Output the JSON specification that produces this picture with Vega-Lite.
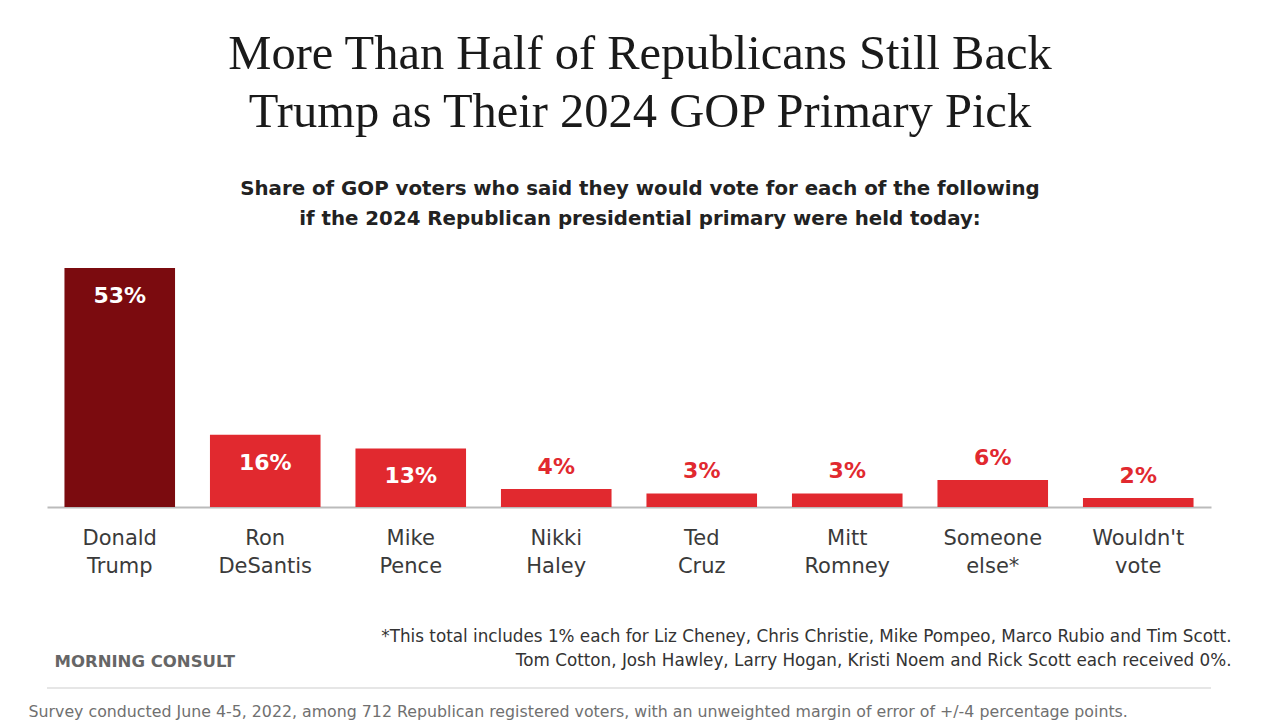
{
  "$schema": "https://vega.github.io/schema/vega-lite/v6.json",
  "width": 1164,
  "height": 239,
  "autosize": "none",
  "padding": {"left": 47, "top": 268, "right": 68, "bottom": 213},
  "background": "white",
  "config": {"view": {"stroke": null}},
  "title": {
    "text": ["More Than Half of Republicans Still Back", "Trump as Their 2024 GOP Primary Pick"],
    "subtitle": ["Share of GOP voters who said they would vote for each of the following", "if the 2024 Republican presidential primary were held today:"],
    "anchor": "middle",
    "frame": "group",
    "dx": 11,
    "offset": 38,
    "font": "Liberation Serif",
    "fontSize": 48.5,
    "fontWeight": "normal",
    "lineHeight": 58,
    "color": "#1a1a1a",
    "subtitleFont": "DejaVu Sans",
    "subtitleFontSize": 19.8,
    "subtitleFontWeight": "bold",
    "subtitleColor": "#222222",
    "subtitleLineHeight": 30,
    "subtitlePadding": 42
  },
  "data": {
    "values": [
      {"name": "Donald Trump", "pct": 53},
      {"name": "Ron DeSantis", "pct": 16},
      {"name": "Mike Pence", "pct": 13},
      {"name": "Nikki Haley", "pct": 4},
      {"name": "Ted Cruz", "pct": 3},
      {"name": "Mitt Romney", "pct": 3},
      {"name": "Someone else*", "pct": 6},
      {"name": "Wouldn't vote", "pct": 2}
    ]
  },
  "resolve": {"scale": {"y": "independent"}},
  "layer": [
    {
      "mark": {"type": "bar"},
      "encoding": {
        "x": {
          "field": "name",
          "type": "nominal",
          "sort": null,
          "scale": {"paddingInner": 0.24, "paddingOuter": 0.12},
          "axis": {
            "title": ["*This total includes 1% each for Liz Cheney, Chris Christie, Mike Pompeo, Marco Rubio and Tim Scott.", "Tom Cotton, Josh Hawley, Larry Hogan, Kristi Noem and Rick Scott each received 0%."],
            "titleFont": "DejaVu Sans",
            "titleFontSize": 16.8,
            "titleFontWeight": "normal",
            "titleColor": "#333333",
            "titleLineHeight": 24,
            "titleAnchor": "end",
            "titleAlign": "right",
            "titleBaseline": "middle",
            "titleX": 1184,
            "titleY": 129,
            "labelExpr": "split(datum.label, ' ')",
            "labelAngle": 0,
            "labelFont": "DejaVu Sans",
            "labelFontSize": 21,
            "labelColor": "#3a3a3a",
            "labelLineHeight": 28,
            "labelPadding": 20,
            "ticks": false,
            "domainColor": "#bbbbbb",
            "domainWidth": 2
          }
        },
        "y": {
          "field": "pct",
          "type": "quantitative",
          "scale": {"domain": [0, 53], "nice": false},
          "axis": {
            "orient": "left",
            "title": "MORNING CONSULT",
            "titleFont": "DejaVu Sans",
            "titleFontSize": 16.5,
            "titleFontWeight": "bold",
            "titleColor": "#666666",
            "titleAngle": 0,
            "titleAlign": "left",
            "titleBaseline": "middle",
            "titleX": 7,
            "titleY": 393,
            "labels": false,
            "ticks": false,
            "domain": false,
            "grid": false
          }
        },
        "color": {
          "condition": {"test": "datum.pct > 50", "value": "#7b0b0f"},
          "value": "#e1292f"
        }
      }
    },
    {
      "transform": [{"filter": "datum.pct >= 10"}, {"calculate": "datum.pct + '%'", "as": "lbl"}],
      "mark": {"type": "text", "baseline": "middle", "dy": 28, "font": "DejaVu Sans", "fontWeight": "bold", "fontSize": 22, "color": "white"},
      "encoding": {
        "x": {"field": "name", "type": "nominal", "sort": null},
        "y": {
          "field": "pct",
          "type": "quantitative",
          "scale": {"domain": [0, 53], "nice": false},
          "axis": {
            "orient": "right",
            "title": "Survey conducted June 4-5, 2022, among 712 Republican registered voters, with an unweighted margin of error of +/-4 percentage points.",
            "titleFont": "DejaVu Sans",
            "titleFontSize": 15.8,
            "titleFontWeight": "normal",
            "titleColor": "#707070",
            "titleAngle": 0,
            "titleAlign": "left",
            "titleBaseline": "middle",
            "titleX": -1183,
            "titleY": 443,
            "labels": false,
            "ticks": false,
            "domain": false,
            "grid": false
          }
        },
        "text": {"field": "lbl", "type": "nominal"}
      }
    },
    {
      "transform": [{"filter": "datum.pct < 10"}, {"calculate": "datum.pct + '%'", "as": "lbl"}],
      "mark": {"type": "text", "baseline": "bottom", "dy": -10, "font": "DejaVu Sans", "fontWeight": "bold", "fontSize": 22, "color": "#e1292f"},
      "encoding": {
        "x": {"field": "name", "type": "nominal", "sort": null},
        "y": {"field": "pct", "type": "quantitative", "scale": {"domain": [0, 53], "nice": false}, "axis": null},
        "text": {"field": "lbl", "type": "nominal"}
      }
    },
    {
      "mark": {"type": "rule", "color": "#e6e6e6", "strokeWidth": 1.5, "clip": false},
      "encoding": {
        "y": {"datum": -40.1, "type": "quantitative", "scale": {"domain": [0, 53], "nice": false}, "axis": null}
      }
    }
  ]
}
